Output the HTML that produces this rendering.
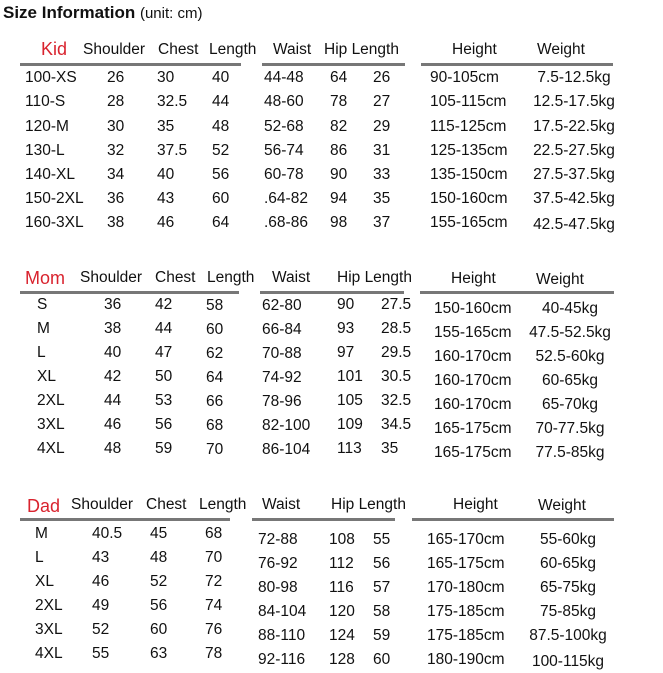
<!DOCTYPE html>
<html><head><meta charset="utf-8"><style>
body{margin:0;background:#fff;width:663px;height:673px;position:relative;overflow:hidden;font-family:"Liberation Sans",sans-serif;color:#111}
.t{position:absolute;font-size:15.5px;line-height:16px;white-space:nowrap}
.c{transform:translateX(-50%)}
.r{color:#d9232e;font-size:18px;line-height:18px}
.l{position:absolute;height:3px;background:#777}
</style></head><body>
<div class="t" style="left:3px;top:4px;font-size:17px;line-height:18px"><b>Size Information</b> <span style="font-size:15px">(unit: cm)</span></div>

<!-- KID -->
<div class="t r" style="left:41px;top:40px">Kid</div>
<div class="t" style="left:83px;top:42px">Shoulder</div><div class="t" style="left:158px;top:42px">Chest</div><div class="t" style="left:209px;top:42px">Length</div>
<div class="t" style="left:273px;top:42px">Waist</div><div class="t" style="left:324px;top:42px">Hip Length</div>
<div class="t" style="left:452px;top:42px">Height</div><div class="t" style="left:537px;top:42px">Weight</div>
<div class="l" style="left:20px;width:221px;top:63px"></div><div class="l" style="left:262px;width:143px;top:63px"></div><div class="l" style="left:421px;width:192px;top:63px"></div>

<div class="t" style="left:25px;top:70px">100-XS</div><div class="t" style="left:107px;top:70px">26</div><div class="t" style="left:157px;top:70px">30</div><div class="t" style="left:212px;top:70px">40</div><div class="t" style="left:264px;top:70px">44-48</div><div class="t" style="left:330px;top:70px">64</div><div class="t" style="left:373px;top:70px">26</div><div class="t" style="left:430px;top:70px">90-105cm</div><div class="t c" style="left:574px;top:70px">7.5-12.5kg</div>
<div class="t" style="left:25px;top:94px">110-S</div><div class="t" style="left:107px;top:94px">28</div><div class="t" style="left:157px;top:94px">32.5</div><div class="t" style="left:212px;top:94px">44</div><div class="t" style="left:264px;top:94px">48-60</div><div class="t" style="left:330px;top:94px">78</div><div class="t" style="left:373px;top:94px">27</div><div class="t" style="left:430px;top:94px">105-115cm</div><div class="t c" style="left:574px;top:94px">12.5-17.5kg</div>
<div class="t" style="left:25px;top:119px">120-M</div><div class="t" style="left:107px;top:119px">30</div><div class="t" style="left:157px;top:119px">35</div><div class="t" style="left:212px;top:119px">48</div><div class="t" style="left:264px;top:119px">52-68</div><div class="t" style="left:330px;top:119px">82</div><div class="t" style="left:373px;top:119px">29</div><div class="t" style="left:430px;top:119px">115-125cm</div><div class="t c" style="left:574px;top:119px">17.5-22.5kg</div>
<div class="t" style="left:25px;top:143px">130-L</div><div class="t" style="left:107px;top:143px">32</div><div class="t" style="left:157px;top:143px">37.5</div><div class="t" style="left:212px;top:143px">52</div><div class="t" style="left:264px;top:143px">56-74</div><div class="t" style="left:330px;top:143px">86</div><div class="t" style="left:373px;top:143px">31</div><div class="t" style="left:430px;top:143px">125-135cm</div><div class="t c" style="left:574px;top:143px">22.5-27.5kg</div>
<div class="t" style="left:25px;top:167px">140-XL</div><div class="t" style="left:107px;top:167px">34</div><div class="t" style="left:157px;top:167px">40</div><div class="t" style="left:212px;top:167px">56</div><div class="t" style="left:264px;top:167px">60-78</div><div class="t" style="left:330px;top:167px">90</div><div class="t" style="left:373px;top:167px">33</div><div class="t" style="left:430px;top:167px">135-150cm</div><div class="t c" style="left:574px;top:167px">27.5-37.5kg</div>
<div class="t" style="left:25px;top:191px">150-2XL</div><div class="t" style="left:107px;top:191px">36</div><div class="t" style="left:157px;top:191px">43</div><div class="t" style="left:212px;top:191px">60</div><div class="t" style="left:264px;top:191px">.64-82</div><div class="t" style="left:330px;top:191px">94</div><div class="t" style="left:373px;top:191px">35</div><div class="t" style="left:430px;top:191px">150-160cm</div><div class="t c" style="left:574px;top:191px">37.5-42.5kg</div>
<div class="t" style="left:25px;top:215px">160-3XL</div><div class="t" style="left:107px;top:215px">38</div><div class="t" style="left:157px;top:215px">46</div><div class="t" style="left:212px;top:215px">64</div><div class="t" style="left:264px;top:215px">.68-86</div><div class="t" style="left:330px;top:215px">98</div><div class="t" style="left:373px;top:215px">37</div><div class="t" style="left:430px;top:215px">155-165cm</div><div class="t c" style="left:574px;top:217px">42.5-47.5kg</div>

<!-- MOM -->
<div class="t r" style="left:25px;top:269px">Mom</div>
<div class="t" style="left:80px;top:270px">Shoulder</div><div class="t" style="left:155px;top:270px">Chest</div><div class="t" style="left:207px;top:270px">Length</div>
<div class="t" style="left:272px;top:270px">Waist</div><div class="t" style="left:337px;top:270px">Hip Length</div>
<div class="t" style="left:451px;top:271px">Height</div><div class="t" style="left:536px;top:272px">Weight</div>
<div class="l" style="left:20px;width:219px;top:291px"></div><div class="l" style="left:260px;width:144px;top:291px"></div><div class="l" style="left:420px;width:194px;top:291px"></div>

<div class="t" style="left:37px;top:297px">S</div><div class="t" style="left:104px;top:297px">36</div><div class="t" style="left:155px;top:297px">42</div><div class="t" style="left:206px;top:298px">58</div><div class="t" style="left:262px;top:298px">62-80</div><div class="t" style="left:337px;top:297px">90</div><div class="t" style="left:381px;top:297px">27.5</div><div class="t" style="left:434px;top:301px">150-160cm</div><div class="t c" style="left:570px;top:301px">40-45kg</div>
<div class="t" style="left:37px;top:321px">M</div><div class="t" style="left:104px;top:321px">38</div><div class="t" style="left:155px;top:321px">44</div><div class="t" style="left:206px;top:322px">60</div><div class="t" style="left:262px;top:322px">66-84</div><div class="t" style="left:337px;top:321px">93</div><div class="t" style="left:381px;top:321px">28.5</div><div class="t" style="left:434px;top:325px">155-165cm</div><div class="t c" style="left:570px;top:325px">47.5-52.5kg</div>
<div class="t" style="left:37px;top:345px">L</div><div class="t" style="left:104px;top:345px">40</div><div class="t" style="left:155px;top:345px">47</div><div class="t" style="left:206px;top:346px">62</div><div class="t" style="left:262px;top:346px">70-88</div><div class="t" style="left:337px;top:345px">97</div><div class="t" style="left:381px;top:345px">29.5</div><div class="t" style="left:434px;top:349px">160-170cm</div><div class="t c" style="left:570px;top:349px">52.5-60kg</div>
<div class="t" style="left:37px;top:369px">XL</div><div class="t" style="left:104px;top:369px">42</div><div class="t" style="left:155px;top:369px">50</div><div class="t" style="left:206px;top:370px">64</div><div class="t" style="left:262px;top:370px">74-92</div><div class="t" style="left:337px;top:369px">101</div><div class="t" style="left:381px;top:369px">30.5</div><div class="t" style="left:434px;top:373px">160-170cm</div><div class="t c" style="left:570px;top:373px">60-65kg</div>
<div class="t" style="left:37px;top:393px">2XL</div><div class="t" style="left:104px;top:393px">44</div><div class="t" style="left:155px;top:393px">53</div><div class="t" style="left:206px;top:394px">66</div><div class="t" style="left:262px;top:394px">78-96</div><div class="t" style="left:337px;top:393px">105</div><div class="t" style="left:381px;top:393px">32.5</div><div class="t" style="left:434px;top:397px">160-170cm</div><div class="t c" style="left:570px;top:397px">65-70kg</div>
<div class="t" style="left:37px;top:417px">3XL</div><div class="t" style="left:104px;top:417px">46</div><div class="t" style="left:155px;top:417px">56</div><div class="t" style="left:206px;top:418px">68</div><div class="t" style="left:262px;top:418px">82-100</div><div class="t" style="left:337px;top:417px">109</div><div class="t" style="left:381px;top:417px">34.5</div><div class="t" style="left:434px;top:421px">165-175cm</div><div class="t c" style="left:570px;top:421px">70-77.5kg</div>
<div class="t" style="left:37px;top:441px">4XL</div><div class="t" style="left:104px;top:441px">48</div><div class="t" style="left:155px;top:441px">59</div><div class="t" style="left:206px;top:442px">70</div><div class="t" style="left:262px;top:442px">86-104</div><div class="t" style="left:337px;top:441px">113</div><div class="t" style="left:381px;top:441px">35</div><div class="t" style="left:434px;top:445px">165-175cm</div><div class="t c" style="left:570px;top:445px">77.5-85kg</div>

<!-- DAD -->
<div class="t r" style="left:27px;top:497px">Dad</div>
<div class="t" style="left:71px;top:497px">Shoulder</div><div class="t" style="left:146px;top:497px">Chest</div><div class="t" style="left:199px;top:497px">Length</div>
<div class="t" style="left:262px;top:497px">Waist</div><div class="t" style="left:331px;top:497px">Hip Length</div>
<div class="t" style="left:453px;top:497px">Height</div><div class="t" style="left:538px;top:498px">Weight</div>
<div class="l" style="left:20px;width:210px;top:518px"></div><div class="l" style="left:252px;width:143px;top:518px"></div><div class="l" style="left:412px;width:202px;top:518px"></div>

<div class="t" style="left:35px;top:526px">M</div><div class="t" style="left:92px;top:526px">40.5</div><div class="t" style="left:150px;top:526px">45</div><div class="t" style="left:205px;top:526px">68</div><div class="t" style="left:258px;top:532px">72-88</div><div class="t" style="left:329px;top:532px">108</div><div class="t" style="left:373px;top:532px">55</div><div class="t" style="left:427px;top:532px">165-170cm</div><div class="t c" style="left:568px;top:532px">55-60kg</div>
<div class="t" style="left:35px;top:550px">L</div><div class="t" style="left:92px;top:550px">43</div><div class="t" style="left:150px;top:550px">48</div><div class="t" style="left:205px;top:550px">70</div><div class="t" style="left:258px;top:556px">76-92</div><div class="t" style="left:329px;top:556px">112</div><div class="t" style="left:373px;top:556px">56</div><div class="t" style="left:427px;top:556px">165-175cm</div><div class="t c" style="left:568px;top:556px">60-65kg</div>
<div class="t" style="left:35px;top:574px">XL</div><div class="t" style="left:92px;top:574px">46</div><div class="t" style="left:150px;top:574px">52</div><div class="t" style="left:205px;top:574px">72</div><div class="t" style="left:258px;top:580px">80-98</div><div class="t" style="left:329px;top:580px">116</div><div class="t" style="left:373px;top:580px">57</div><div class="t" style="left:427px;top:580px">170-180cm</div><div class="t c" style="left:568px;top:580px">65-75kg</div>
<div class="t" style="left:35px;top:598px">2XL</div><div class="t" style="left:92px;top:598px">49</div><div class="t" style="left:150px;top:598px">56</div><div class="t" style="left:205px;top:598px">74</div><div class="t" style="left:258px;top:604px">84-104</div><div class="t" style="left:329px;top:604px">120</div><div class="t" style="left:373px;top:604px">58</div><div class="t" style="left:427px;top:604px">175-185cm</div><div class="t c" style="left:568px;top:604px">75-85kg</div>
<div class="t" style="left:35px;top:622px">3XL</div><div class="t" style="left:92px;top:622px">52</div><div class="t" style="left:150px;top:622px">60</div><div class="t" style="left:205px;top:622px">76</div><div class="t" style="left:258px;top:628px">88-110</div><div class="t" style="left:329px;top:628px">124</div><div class="t" style="left:373px;top:628px">59</div><div class="t" style="left:427px;top:628px">175-185cm</div><div class="t c" style="left:568px;top:628px">87.5-100kg</div>
<div class="t" style="left:35px;top:646px">4XL</div><div class="t" style="left:92px;top:646px">55</div><div class="t" style="left:150px;top:646px">63</div><div class="t" style="left:205px;top:646px">78</div><div class="t" style="left:258px;top:652px">92-116</div><div class="t" style="left:329px;top:652px">128</div><div class="t" style="left:373px;top:652px">60</div><div class="t" style="left:427px;top:652px">180-190cm</div><div class="t c" style="left:568px;top:654px">100-115kg</div>
</body></html>
